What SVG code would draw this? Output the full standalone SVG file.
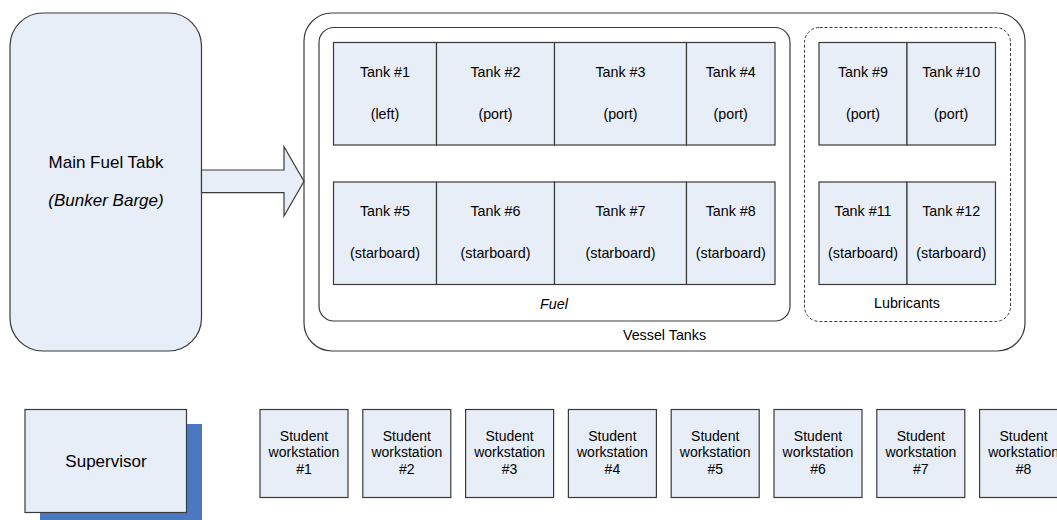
<svg xmlns="http://www.w3.org/2000/svg" width="1057" height="520" viewBox="0 0 1057 520">
<style>
text{font-family:"Liberation Sans",Arial,sans-serif;fill:#000;text-anchor:middle}
.box{fill:#E8EEF7;stroke:#3a3a3a;stroke-width:1.2}
.frame{fill:none;stroke:#3a3a3a;stroke-width:1.2}
.dash{fill:none;stroke:#3a3a3a;stroke-width:1;stroke-dasharray:3,2}
.t{font-size:14.3px}
.big{font-size:17px}
.ws{font-size:14px}
.it{font-style:italic}
</style>
<rect width="1057" height="520" fill="#fff"/>
<g id="main-fuel-tank">
<rect class="box" x="10" y="13" width="191.5" height="338" rx="33" ry="33"/>
<text class="big" x="106" y="168">Main Fuel Tabk</text>
<text class="big it" x="106" y="206">(Bunker Barge)</text>
</g>
<g id="connectors">
<polygon class="box" points="201.5,170 284,170 284,146.7 304,181.3 284,216 284,192.7 201.5,192.7"/>
</g>
<g id="vessel-tanks">
<rect class="frame" x="304" y="13" width="721" height="338" rx="28" ry="28"/>
<text class="t" x="664.5" y="340">Vessel Tanks</text>
</g>
<g id="fuel">
<rect class="frame" x="319" y="27.5" width="471" height="293.5" rx="15" ry="15"/>
<text class="t it" x="554" y="309">Fuel</text>
</g>
<g id="lubricants">
<rect class="dash" x="804.5" y="27.5" width="206" height="294" rx="15" ry="15"/>
<text class="t" x="907" y="308">Lubricants</text>
</g>
<g id="tank1"><rect class="box" x="333.5" y="42.5" width="103" height="102.5"/><text class="t" x="385" y="77">Tank #1</text><text class="t" x="385" y="119">(left)</text></g>
<g id="tank2"><rect class="box" x="436.5" y="42.5" width="118" height="102.5"/><text class="t" x="495.5" y="77">Tank #2</text><text class="t" x="495.5" y="119">(port)</text></g>
<g id="tank3"><rect class="box" x="554.5" y="42.5" width="132" height="102.5"/><text class="t" x="620.5" y="77">Tank #3</text><text class="t" x="620.5" y="119">(port)</text></g>
<g id="tank4"><rect class="box" x="686.5" y="42.5" width="88.5" height="102.5"/><text class="t" x="730.7" y="77">Tank #4</text><text class="t" x="730.7" y="119">(port)</text></g>
<g id="tank5"><rect class="box" x="333.5" y="182" width="103" height="102.5"/><text class="t" x="385" y="216">Tank #5</text><text class="t" x="385" y="258">(starboard)</text></g>
<g id="tank6"><rect class="box" x="436.5" y="182" width="118" height="102.5"/><text class="t" x="495.5" y="216">Tank #6</text><text class="t" x="495.5" y="258">(starboard)</text></g>
<g id="tank7"><rect class="box" x="554.5" y="182" width="132" height="102.5"/><text class="t" x="620.5" y="216">Tank #7</text><text class="t" x="620.5" y="258">(starboard)</text></g>
<g id="tank8"><rect class="box" x="686.5" y="182" width="88.5" height="102.5"/><text class="t" x="730.7" y="216">Tank #8</text><text class="t" x="730.7" y="258">(starboard)</text></g>
<g id="tank9"><rect class="box" x="819" y="42.5" width="88" height="102.5"/><text class="t" x="863" y="77">Tank #9</text><text class="t" x="863" y="119">(port)</text></g>
<g id="tank10"><rect class="box" x="907" y="42.5" width="88.5" height="102.5"/><text class="t" x="951.2" y="77">Tank #10</text><text class="t" x="951.2" y="119">(port)</text></g>
<g id="tank11"><rect class="box" x="819" y="182" width="88" height="102.5"/><text class="t" x="863" y="216">Tank #11</text><text class="t" x="863" y="258">(starboard)</text></g>
<g id="tank12"><rect class="box" x="907" y="182" width="88.5" height="102.5"/><text class="t" x="951.2" y="216">Tank #12</text><text class="t" x="951.2" y="258">(starboard)</text></g>
<g id="supervisor">
<rect x="40" y="424" width="162" height="103" fill="#4A79C2"/>
<rect class="box" x="25" y="409.5" width="161.5" height="103"/>
<text class="big" x="106" y="467">Supervisor</text>
</g>
<g id="ws1"><rect class="box" x="260" y="409.5" width="88" height="88"/><text class="ws" x="304" y="441">Student</text><text class="ws" x="304" y="457">workstation</text><text class="ws" x="304" y="474">#1</text></g>
<g id="ws2"><rect class="box" x="362.8" y="409.5" width="88" height="88"/><text class="ws" x="406.8" y="441">Student</text><text class="ws" x="406.8" y="457">workstation</text><text class="ws" x="406.8" y="474">#2</text></g>
<g id="ws3"><rect class="box" x="465.6" y="409.5" width="88" height="88"/><text class="ws" x="509.6" y="441">Student</text><text class="ws" x="509.6" y="457">workstation</text><text class="ws" x="509.6" y="474">#3</text></g>
<g id="ws4"><rect class="box" x="568.4" y="409.5" width="88" height="88"/><text class="ws" x="612.4" y="441">Student</text><text class="ws" x="612.4" y="457">workstation</text><text class="ws" x="612.4" y="474">#4</text></g>
<g id="ws5"><rect class="box" x="671.2" y="409.5" width="88" height="88"/><text class="ws" x="715.2" y="441">Student</text><text class="ws" x="715.2" y="457">workstation</text><text class="ws" x="715.2" y="474">#5</text></g>
<g id="ws6"><rect class="box" x="774" y="409.5" width="88" height="88"/><text class="ws" x="818" y="441">Student</text><text class="ws" x="818" y="457">workstation</text><text class="ws" x="818" y="474">#6</text></g>
<g id="ws7"><rect class="box" x="876.8" y="409.5" width="88" height="88"/><text class="ws" x="920.8" y="441">Student</text><text class="ws" x="920.8" y="457">workstation</text><text class="ws" x="920.8" y="474">#7</text></g>
<g id="ws8"><rect class="box" x="979.6" y="409.5" width="88" height="88"/><text class="ws" x="1023.6" y="441">Student</text><text class="ws" x="1023.6" y="457">workstation</text><text class="ws" x="1023.6" y="474">#8</text></g>
</svg>
